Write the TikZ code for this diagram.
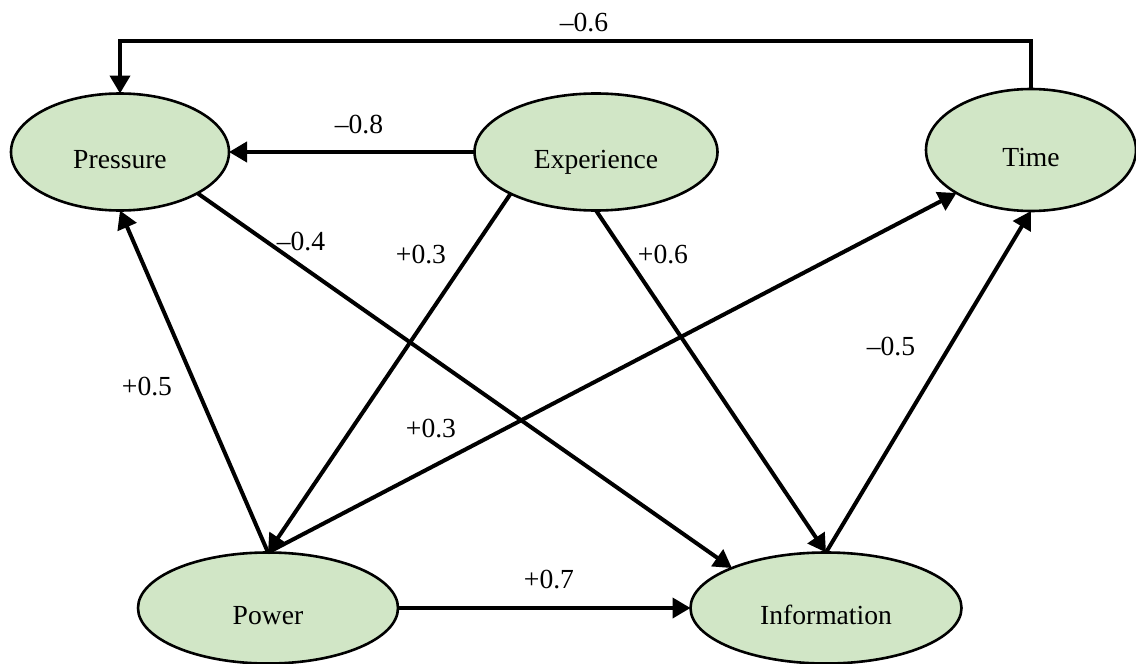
\documentclass[tikz,border=0pt]{standalone}
\usepackage{fontspec}
\setmainfont{Liberation Serif}
\usetikzlibrary{arrows.meta,shapes.geometric}
\definecolor{nodegreen}{RGB}{209,230,198}
\begin{document}
\begin{tikzpicture}[x=0.5pt,y=-0.5pt,
  font=\fontsize{13.8}{16}\selectfont,
  var/.style={ellipse, draw=black, line width=1.3pt, fill=nodegreen, inner sep=0pt, outer sep=0pt,
    text height=16pt, text depth=0pt},
  arr/.style={line width=2pt, -{Triangle[length=9pt,width=10pt]}},
  coef/.style={anchor=base, inner sep=0pt}]
\useasboundingbox (0,0) rectangle (1136,664);
% variables
\node[var, minimum width=109pt, minimum height=58.5pt] (Pressure) at (120,152) {Pressure};
\node[var, minimum width=121.5pt, minimum height=58.5pt] (Experience) at (596,152) {Experience};
\node[var, minimum width=105pt, minimum height=61pt] (Time) at (1031,150) {Time};
\node[var, minimum width=130pt, minimum height=55.5pt] (Power) at (268,608) {Power};
\node[var, minimum width=135.5pt, minimum height=55.5pt] (Information) at (826,608) {Information};
\coordinate (topline) at (0,41);
% connectors
\draw[arr] (Time.north) -- (Time.north |- topline) -| (Pressure.north);
\draw[arr] (Experience.west) -- (Pressure.east);
\draw[arr] (Pressure.-28) -- (Information.157);
\draw[arr] (Experience.206) -- (Power.north);
\draw[arr] (Experience.south) -- (Information.north);
\draw[arr] (Power.north) -- (Time.210);
\draw[arr] (Power.north) -- (Pressure.south);
\draw[arr] (Information.north) -- (Time.south);
\draw[arr] (Power.east) -- (Information.west);
% coefficients
\node[coef] (c1) at (584,32) {--0.6};
\node[coef] (c2) at (359,133) {--0.8};
\node[coef] (c3) at (301,250) {--0.4};
\node[coef] (c4) at (421,263) {+0.3};
\node[coef] (c5) at (663,263) {+0.6};
\node[coef] (c6) at (147,395) {+0.5};
\node[coef] (c7) at (431,437) {+0.3};
\node[coef] (c8) at (891,355) {--0.5};
\node[coef] (c9) at (549,588) {+0.7};
\end{tikzpicture}
\end{document}
